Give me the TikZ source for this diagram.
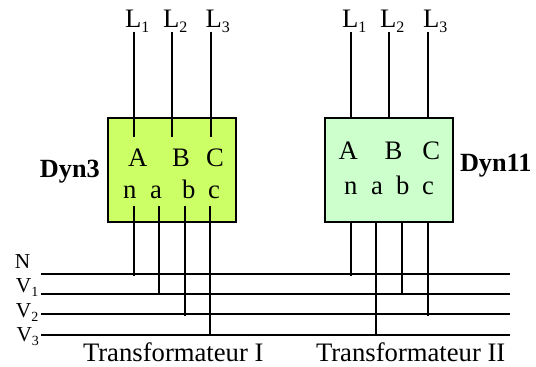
\documentclass[tikz,border=0pt]{standalone}
\usepackage{fontspec}
\setmainfont{Liberation Serif}
\newcommand{\lowsub}[1]{\raisebox{-3.2pt}{\fontsize{12}{12}\selectfont #1}}
\newcommand{\lowsubs}[1]{\raisebox{-3.2pt}{\fontsize{10.5}{10.5}\selectfont #1}}
\tikzset{
  x=0.75pt,y=-0.75pt,
  txt/.style={anchor=base west,inner sep=0pt,outer sep=0pt,font=\fontsize{20}{21}\selectfont,text=black},
  bustxt/.style={anchor=base west,inner sep=0pt,outer sep=0pt,font=\fontsize{16}{17}\selectfont,text=black},
  boldtxt/.style={txt,font=\fontsize{19.7}{20}\selectfont\bfseries},
  transfo/.style={draw=black,line width=1.5pt,minimum width=95.6pt,minimum height=78pt,inner sep=0pt},
  wire/.style={draw=black,line width=1.5pt},
}
\definecolor{dyna}{HTML}{CCFF66}
\definecolor{dynb}{HTML}{CCFFCC}
\begin{document}
\begin{tikzpicture}
\useasboundingbox (0,0) rectangle (536,367);
% coordinates: bus bars
\coordinate (Nl) at (41,274);    \coordinate (Nr) at (510,274);
\coordinate (Al) at (41,294.3);  \coordinate (Ar) at (510,294.3);
\coordinate (Bl) at (41,314.5);  \coordinate (Br) at (510,314.5);
\coordinate (Cl) at (41,334.5);  \coordinate (Cr) at (510,334.5);
% top ends
\coordinate (t1a) at (133.5,32); \coordinate (t2a) at (172,32);   \coordinate (t3a) at (210.5,32);
\coordinate (t1b) at (350.7,32); \coordinate (t2b) at (389.3,32); \coordinate (t3b) at (427.7,32);
% primary ends
\coordinate (p1a) at (133.5,137); \coordinate (p2a) at (172,137); \coordinate (p3a) at (210.5,137);
\coordinate (p1b) at (350.7,118); \coordinate (p2b) at (389.3,118); \coordinate (p3b) at (427.7,118);
% secondary starts
\coordinate (sna) at (133.5,206); \coordinate (saa) at (159,206); \coordinate (sba) at (184.7,206); \coordinate (sca) at (210.3,206);
\coordinate (snb) at (350.7,222); \coordinate (sab) at (376.3,222); \coordinate (sbb) at (402,222); \coordinate (scb) at (427.7,222);
% secondary ends on the bus
\coordinate (ena) at (133.5,276); \coordinate (eaa) at (159,294.3); \coordinate (eba) at (184.7,316.5); \coordinate (eca) at (210.3,334.5);
\coordinate (enb) at (350.7,276); \coordinate (eab) at (376.3,334.5); \coordinate (ebb) at (402,294.3); \coordinate (ecb) at (427.7,316.5);
% transformers
\node[transfo,fill=dyna] (T1) at (172,170) {};
\node[transfo,fill=dynb] (T2) at (389.2,170) {};
% wires
\foreach \a/\b in {t1a/p1a,t2a/p2a,t3a/p3a,t1b/p1b,t2b/p2b,t3b/p3b,
  sna/ena,saa/eaa,sba/eba,sca/eca,snb/enb,sab/eab,sbb/ebb,scb/ecb,
  Nl/Nr,Al/Ar,Bl/Br,Cl/Cr}
  \draw[wire] (\a) -- (\b);
% line labels
\node[txt] (la1) at (125,28) {L\lowsub{1}};
\node[txt] (la2) at (163,28) {L\lowsub{2}};
\node[txt] (la3) at (205.5,28) {L\lowsub{3}};
\node[txt] (lb1) at (342,28) {L\lowsub{1}};
\node[txt] (lb2) at (380,28) {L\lowsub{2}};
\node[txt] (lb3) at (423,28) {L\lowsub{3}};
% terminals I
\node[txt] (Aa) at (128,166.7) {A};
\node[txt] (Ba) at (172,166.7) {B};
\node[txt] (Ca) at (206,166.7) {C};
\node[txt] (na) at (123,199) {n};
\node[txt] (aa) at (150,199) {a};
\node[txt] (ba) at (182,199) {b};
\node[txt] (ca) at (208,199) {c};
% terminals II
\node[txt] (Ab) at (338.7,160) {A};
\node[txt] (Bb) at (384.7,160) {B};
\node[txt] (Cb) at (422.3,160) {C};
\node[txt] (nb) at (344,195) {n};
\node[txt] (ab) at (371,195) {a};
\node[txt] (bb) at (396,195) {b};
\node[txt] (cb) at (422,195) {c};
% couplings
\node[boldtxt] (d3) at (40,178) {Dyn3};
\node[boldtxt] (d11) at (460,171.7) {Dyn11};
% bus labels
\node[bustxt] (bN) at (15,269) {N};
\node[bustxt] (bV1) at (16,292.7) {V\lowsubs{1}};
\node[bustxt] (bV2) at (16,317) {V\lowsubs{2}};
\node[bustxt] (bV3) at (16.5,341.7) {V\lowsubs{3}};
% captions
\node[txt] (cap1) at (83,361) {Transformateur I};
\node[txt] (cap2) at (316,361) {Transformateur II};
\end{tikzpicture}
\end{document}
